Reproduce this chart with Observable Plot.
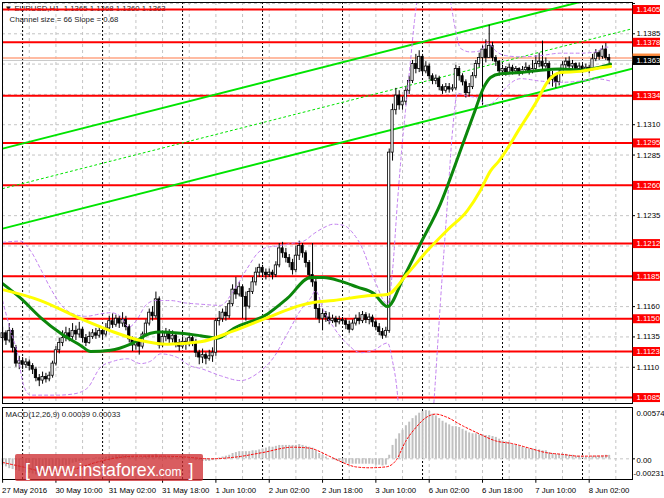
<!DOCTYPE html>
<html>
<head>
<meta charset="utf-8">
<script src="https://cdn.jsdelivr.net/npm/d3@7"></script>
<script src="https://cdn.jsdelivr.net/npm/@observablehq/plot@0.6"></script>
<style>
html,body{margin:0;padding:0;background:#fff;overflow:hidden;}
#chart{position:relative;width:664px;height:498px;overflow:hidden;background:#fff;}
#chart svg{position:absolute;left:0;display:block;max-width:none !important;}
#wm{position:absolute;left:15px;top:454px;width:188px;height:27px;background:rgba(205,42,46,0.76);border-radius:2px;color:#fff;font-family:"Liberation Sans",Arial,sans-serif;white-space:nowrap;line-height:33px;box-sizing:border-box;padding-left:10px;overflow:visible;z-index:5;}
.wb{font-size:17.8px;} .ws{font-size:12px;}
</style>
</head>
<body>
<div id="chart"><div id="wm"><span class="wb">[</span><span class="wb" style="margin-left:6px">www.instaforex</span><span class="ws">.com</span><span class="wb" style="margin-left:7px">]</span></div></div>
<script>
// ---------- DATA (EURUSD H1, bar 0 = 27 May 18:00) ----------
const firstOpen = 1.1134;
const close = [
1.1138,1.1132,1.1140,1.1126,1.1113,1.1115,1.1112,1.1114,1.1111,1.1108,
1.1101,1.1099,1.1102,1.1100,1.1103,1.1113,1.1124,1.1130,1.1134,1.1138,
1.1135,1.1140,1.1137,1.1141,1.1134,1.1130,1.1135,1.1138,1.1136,1.1140,
1.1137,1.1142,1.1148,1.1145,1.1150,1.1146,1.1149,1.1143,1.1133,1.1128,
1.1131,1.1127,1.1137,1.1146,1.1155,1.1152,1.1166,1.1128,1.1135,1.1138,
1.1133,1.1136,1.1130,1.1127,1.1131,1.1129,1.1134,1.1131,1.1122,1.1118,
1.1120,1.1117,1.1119,1.1122,1.1148,1.1150,1.1155,1.1152,1.1162,1.1174,
1.1170,1.1176,1.1168,1.1160,1.1172,1.1180,1.1188,1.1192,1.1188,1.1186,
1.1188,1.1186,1.1194,1.1208,1.1204,1.1200,1.1196,1.1190,1.1202,1.1210,
1.1204,1.1196,1.1186,1.1180,1.1158,1.1150,1.1154,1.1151,1.1148,1.1150,
1.1147,1.1149,1.1148,1.1145,1.1141,1.1146,1.1150,1.1148,1.1153,1.1149,
1.1151,1.1147,1.1143,1.1139,1.1136,1.1140,1.1287,1.1322,1.1334,1.1326,
1.1329,1.1338,1.1346,1.1360,1.1356,1.1366,1.1354,1.1358,1.1350,1.1346,
1.1348,1.1341,1.1338,1.1341,1.1339,1.1340,1.1356,1.1350,1.1345,1.1336,
1.1341,1.1350,1.1360,1.1365,1.1372,1.1365,1.1375,1.1365,1.1362,1.1354,
1.1356,1.1353,1.1357,1.1354,1.1356,1.1353,1.1355,1.1357,1.1354,1.1356,
1.1360,1.1362,1.1358,1.1360,1.1347,1.1350,1.1345,1.1352,1.1359,1.1362,
1.1358,1.1360,1.1356,1.1358,1.1355,1.1357,1.1355,1.1364,1.1369,1.1366,
1.1372,1.1365,1.1363];
const high = [
1.1143,1.1140,1.1146,1.1142,1.1128,1.1119,1.1118,1.1117,1.1116,1.1113,
1.1110,1.1104,1.1106,1.1105,1.1106,1.1115,1.1127,1.1134,1.1140,1.1143,
1.1142,1.1146,1.1144,1.1147,1.1143,1.1137,1.1139,1.1141,1.1142,1.1144,
1.1143,1.1146,1.1152,1.1154,1.1153,1.1152,1.1155,1.1152,1.1145,1.1135,
1.1134,1.1133,1.1139,1.1149,1.1158,1.1160,1.1172,1.1168,1.1140,1.1142,
1.1141,1.1140,1.1138,1.1133,1.1135,1.1134,1.1137,1.1136,1.1133,1.1124,
1.1125,1.1122,1.1124,1.1126,1.1150,1.1156,1.1158,1.1160,1.1165,1.1178,
1.1184,1.1180,1.1178,1.1172,1.1175,1.1184,1.1192,1.1195,1.1194,1.1191,
1.1191,1.1190,1.1197,1.1212,1.1213,1.1208,1.1203,1.1199,1.1210,1.1214,
1.1212,1.1206,1.1198,1.1212,1.1184,1.1162,1.1158,1.1156,1.1155,1.1153,
1.1152,1.1152,1.1151,1.1150,1.1148,1.1149,1.1153,1.1155,1.1156,1.1155,
1.1154,1.1153,1.1149,1.1146,1.1142,1.1143,1.1290,1.1327,1.1340,1.1338,
1.1333,1.1341,1.1350,1.1363,1.1368,1.1371,1.1368,1.1362,1.1360,1.1352,
1.1351,1.1350,1.1343,1.1344,1.1344,1.1343,1.1359,1.1358,1.1352,1.1347,
1.1344,1.1353,1.1363,1.1369,1.1375,1.1380,1.1392,1.1378,1.1367,1.1363,
1.1359,1.1358,1.1360,1.1359,1.1358,1.1357,1.1358,1.1361,1.1359,1.1363,
1.1367,1.1369,1.1379,1.1365,1.1362,1.1354,1.1352,1.1355,1.1362,1.1365,
1.1366,1.1363,1.1361,1.1361,1.1360,1.1360,1.1359,1.1368,1.1372,1.1371,
1.1375,1.1377,1.1368];
const low = [
1.1130,1.1128,1.1130,1.1122,1.1110,1.1108,1.1108,1.1109,1.1107,1.1104,
1.1098,1.1094,1.1096,1.1097,1.1098,1.1101,1.1111,1.1121,1.1127,1.1131,
1.1131,1.1133,1.1132,1.1134,1.1130,1.1127,1.1129,1.1133,1.1133,1.1134,
1.1133,1.1135,1.1140,1.1142,1.1143,1.1142,1.1143,1.1140,1.1130,1.1123,
1.1124,1.1120,1.1125,1.1135,1.1144,1.1148,1.1150,1.1125,1.1126,1.1131,
1.1129,1.1130,1.1126,1.1123,1.1125,1.1124,1.1127,1.1127,1.1118,1.1112,
1.1113,1.1112,1.1115,1.1114,1.1119,1.1144,1.1147,1.1148,1.1150,1.1160,
1.1166,1.1168,1.1150,1.1148,1.1158,1.1170,1.1177,1.1184,1.1184,1.1182,
1.1184,1.1182,1.1184,1.1192,1.1200,1.1196,1.1192,1.1186,1.1188,1.1198,
1.1200,1.1192,1.1182,1.1176,1.1150,1.1146,1.1140,1.1147,1.1145,1.1146,
1.1143,1.1145,1.1145,1.1141,1.1138,1.1140,1.1144,1.1145,1.1146,1.1146,
1.1145,1.1143,1.1140,1.1136,1.1133,1.1134,1.1138,1.1280,1.1318,1.1322,
1.1322,1.1326,1.1335,1.1344,1.1352,1.1353,1.1350,1.1352,1.1347,1.1343,
1.1343,1.1338,1.1335,1.1336,1.1336,1.1337,1.1338,1.1346,1.1342,1.1332,
1.1333,1.1339,1.1348,1.1357,1.1326,1.1361,1.1365,1.1362,1.1358,1.1350,
1.1352,1.1350,1.1352,1.1351,1.1352,1.1350,1.1351,1.1353,1.1351,1.1352,
1.1354,1.1357,1.1355,1.1356,1.1343,1.1341,1.1340,1.1342,1.1350,1.1356,
1.1355,1.1355,1.1353,1.1354,1.1352,1.1353,1.1352,1.1355,1.1362,1.1363,
1.1364,1.1363,1.1360];
const macd = [
-0.0007,-0.0009,-0.0011,-0.0012,-0.0013,-0.0014,-0.0015,-0.0016,-0.0016,-0.0017,
-0.0018,-0.0018,-0.0018,-0.0018,-0.0017,-0.0016,-0.0014,-0.0012,-0.0010,-0.0008,
-0.0007,-0.0005,-0.0004,-0.0003,-0.0002,-0.0002,-0.0001,0.0000,0.0001,0.0001,
0.0002,0.0002,0.0003,0.0003,0.0004,0.0004,0.0004,0.0004,0.0003,0.0002,
0.0002,0.0001,0.0002,0.0003,0.0004,0.0004,0.0005,0.0003,0.0003,0.0002,
0.0002,0.0002,0.0001,0.0001,0.0000,0.0000,0.0000,-0.0001,-0.0002,-0.0002,
-0.0003,-0.0003,-0.0003,-0.0002,0.0000,0.0001,0.0002,0.0003,0.0004,0.0006,
0.0007,0.0008,0.0008,0.0008,0.0008,0.0009,0.0009,0.0010,0.0011,0.0012,
0.0013,0.0013,0.0014,0.0015,0.0015,0.0015,0.0015,0.0015,0.0015,0.0016,
0.0015,0.0014,0.0013,0.0012,0.0009,0.0006,0.0004,0.0002,0.0000,-0.0001,
-0.0002,-0.0003,-0.0004,-0.0005,-0.0006,-0.0006,-0.0006,-0.0006,-0.0006,-0.0006,
-0.0006,-0.0006,-0.0007,-0.0007,-0.0008,-0.0007,0.0004,0.0015,0.0022,0.0028,
0.0032,0.0037,0.0041,0.0045,0.0048,0.0051,0.0053,0.0054,0.0053,0.0050,
0.0048,0.0045,0.0042,0.0040,0.0038,0.0036,0.0036,0.0035,0.0033,0.0031,
0.0029,0.0028,0.0028,0.0027,0.0027,0.0026,0.0026,0.0025,0.0024,0.0022,
0.0020,0.0019,0.0018,0.0016,0.0015,0.0014,0.0013,0.0012,0.0011,0.0011,
0.0010,0.0010,0.0009,0.0009,0.0007,0.0006,0.0005,0.0005,0.0005,0.0005,
0.0004,0.0004,0.0003,0.0003,0.0003,0.0002,0.0002,0.0003,0.0003,0.0003,
0.0003,0.0004,0.00039];
// MACD signal line, read at [bar, value]
const signalPts = [[0,-0.0004],[6,-0.0009],[12,-0.0014],[17,-0.0015],[22,-0.0011],[28,-0.0004],[34,0.0001],[40,0.0003],[48,0.0003],[55,0.0002],[62,0.0000],[70,0.0002],[78,0.0007],[87,0.0013],[92,0.0012],[98,0.0003],[102,-0.0004],[106,-0.0009],[110,-0.0010],[115,-0.0009],[118,-0.0002],[121,0.0020],[124,0.0035],[127,0.0046],[130,0.0050],[133,0.0047],[138,0.0037],[143,0.0028],[148,0.0020],[153,0.0017],[158,0.0012],[163,0.0007],[168,0.0005],[173,0.0003],[182,0.00033]];
// moving averages and Bollinger bands, read at [bar, price]
const yellowMA = [[0,1.1174],[11.4,1.1165],[23.4,1.1150],[32.4,1.1140],[41.4,1.1132],[49.5,1.1129],[59.4,1.1131],[69.3,1.1140],[79.5,1.1151],[89.4,1.1161],[92.4,1.1163],[99.3,1.1165],[109.5,1.1169],[115.4,1.1170],[121.4,1.1187],[127.4,1.1206],[133.4,1.1223],[139.4,1.1239],[143.4,1.1256],[146.4,1.1272],[148.9,1.1280],[155.4,1.1308],[160.4,1.1330],[163.4,1.1345],[167.4,1.1353],[173.4,1.1354],[177.3,1.1356],[182.4,1.1358]];
const greenMA = [[0,1.1179],[5.4,1.1167],[11.4,1.1151],[17.4,1.1138],[23.4,1.1128],[26.4,1.1123],[32.4,1.1124],[38.4,1.1129],[44.4,1.1138],[47.4,1.1139],[53.4,1.1138],[59.4,1.1136],[64.5,1.1134],[69.3,1.1142],[79.5,1.1154],[85.5,1.1167],[92.4,1.1184],[96.3,1.1184],[101.4,1.1181],[106.5,1.1176],[111.3,1.1171],[115.5,1.1160],[120.3,1.1184],[125.4,1.1212],[131.4,1.1245],[137.4,1.1289],[141.4,1.1319],[144.4,1.1341],[146.4,1.1349],[149.4,1.1352],[155.4,1.1353],[161.4,1.1355],[167.4,1.1356],[173.4,1.1355],[178.5,1.1357],[182.4,1.1360]];
const bbUpper = [[0,1.1213],[5.4,1.1214],[8.4,1.1206],[11.4,1.1191],[14.4,1.1175],[17.4,1.1162],[20.4,1.1155],[24.9,1.1152],[29.4,1.1154],[32.4,1.1155],[35.4,1.1152],[37.8,1.1143],[40.5,1.1150],[42.9,1.1161],[45.9,1.1165],[50.4,1.1165],[54.9,1.1163],[59.4,1.1162],[65.4,1.1161],[69.3,1.1173],[73.5,1.1192],[76.5,1.1204],[79.5,1.1209],[82.5,1.1210],[86.4,1.1212],[90.3,1.1214],[93.3,1.1220],[96.3,1.1225],[99.3,1.1228],[102.3,1.1227],[105.3,1.1220],[108.3,1.1206],[110.4,1.1190],[112.5,1.1176],[114.3,1.1165],[115.5,1.1162],[117,1.1190],[118.5,1.1247],[120,1.1297],[120.9,1.1322],[122.4,1.1363],[123.6,1.1396],[126.9,1.1445],[131.4,1.1437],[134.4,1.1411],[135.9,1.1388],[137.4,1.1373],[140.4,1.1370],[143.4,1.1371],[145.5,1.1378],[147.9,1.1371],[150.9,1.1367],[155.4,1.1366],[161.4,1.1367],[167.4,1.1369],[173.4,1.1369],[177.9,1.1370],[180.9,1.1374],[182.4,1.1374]];
const bbLower = [[0,1.1165],[2.4,1.1140],[4.5,1.1121],[6.3,1.1095],[8.4,1.1087],[16.5,1.1087],[21.3,1.1088],[25.5,1.1093],[29.4,1.1110],[33.3,1.1115],[37.5,1.1117],[41.4,1.1113],[44.4,1.1115],[47.4,1.1121],[52.5,1.1118],[56.4,1.1111],[59.4,1.1109],[65.4,1.1103],[71.4,1.1099],[76.5,1.1105],[81.3,1.1118],[85.5,1.1138],[89.4,1.1157],[92.4,1.1167],[93.9,1.1173],[96.3,1.1157],[99.3,1.1143],[103.5,1.1129],[107.4,1.1122],[111.3,1.1124],[115.5,1.1130],[117,1.1115],[118.5,1.1087],[120,1.1025],[125.4,1.0984],[129.0,1.1066],[131.4,1.1165],[133.5,1.1247],[135,1.1305],[136.5,1.1336],[138.9,1.1334],[142.5,1.1332],[145.5,1.1326],[147.9,1.1330],[151.5,1.1342],[155.4,1.1348],[161.4,1.1346],[167.4,1.1345],[173.4,1.1346],[177.9,1.1348],[182.4,1.1346]];
// regression channel (size 66 pips, slope 0.68)
const channelBars = [0, 189];
const channelUpper = [1.12903, 1.14222];
const channelMid = [1.12573, 1.13892];
const channelLower = [1.12243, 1.13562];
// levels and labels
const levels = [1.1405, 1.1378, 1.1334, 1.1295, 1.1260, 1.1212, 1.1185, 1.1150, 1.1123, 1.1085];
const gridPrices = [1.1085, 1.1110, 1.1135, 1.1160, 1.1185, 1.1210, 1.1235, 1.1260, 1.1285, 1.1310, 1.1335, 1.1360, 1.1385, 1.1410];
const gridLabelPrices = [1.1110, 1.1135, 1.1160, 1.1235, 1.1285, 1.1310, 1.1385];
const askPrice = 1.1365, bidPrice = 1.1363;
const gridBars = [0,8,16,24,32,40,48,56,64,72,80,88,96,104,112,120,128,136,144,152,160,168,176,184];
const daySeps = [6,30,54,78,102,126,150,174];
const timeLabelBars = [0,16,32,48,64,80,96,112,128,144,160,176];
const timeLabels = ["27 May 2016","30 May 10:00","31 May 02:00","31 May 18:00","1 Jun 10:00","2 Jun 02:00","2 Jun 18:00","3 Jun 10:00","6 Jun 02:00","6 Jun 18:00","7 Jun 10:00","8 Jun 02:00"];
const macdLabelVals = [0.00574, 0, -0.00231];
const macdLabelText = ["0.00574", "0.00", "-0.00231"];
const titleText = "\u25BC EURUSD,H1  1.1365 1.1368 1.1360 1.1363";
const channelText = "Channel size = 66 Slope = 0.68";
const macdTitle = "MACD(12,26,9) 0.00039 0.00033";

// ---------- CHART ----------
const bars = close.map((c, i) => ({i, o: i === 0 ? firstOpen : close[i - 1], h: high[i], l: low[i], c}));
const macdBars = macd.map((v, i) => ({i, v}));
const xDom = [-0.03, 189.0];
const axisX = 189.0;
const fs = 7.8;
const fam = "Liberation Sans, Arial, sans-serif";
const chLine = (vals, opts) => Plot.line(channelBars, {x: d => d, y: (d, i) => vals[i], clip: true, ...opts});
const ptLine = (pts, opts) => Plot.line(pts, {x: d => d[0], y: d => d[1], clip: true, curve: "monotone-x", ...opts});

const mainPlot = Plot.plot({
  width: 664, height: 405,
  marginLeft: 2, marginRight: 32, marginTop: 2, marginBottom: 2,
  x: {domain: xDom, axis: null},
  y: {domain: [1.10801, 1.14108], axis: null},
  style: {background: "#fff", fontFamily: fam},
  marks: [
    Plot.ruleY(gridPrices, {stroke: "#c4c4c4", strokeDasharray: "3,3"}),
    Plot.ruleX(gridBars, {stroke: "#c4c4c4", strokeDasharray: "3,3"}),
    Plot.ruleX(daySeps, {stroke: "#000", strokeDasharray: "2,2"}),
    Plot.text([titleText], {frameAnchor: "top-left", dx: 2, dy: 3, textAnchor: "start", lineAnchor: "top", fontSize: fs, fill: "#222"}),
    Plot.text([channelText], {frameAnchor: "top-left", dx: 7, dy: 14, textAnchor: "start", lineAnchor: "top", fontSize: fs, fill: "#222"}),
    Plot.ruleY([bidPrice], {stroke: "#c8c8c8"}),
    Plot.ruleY([askPrice], {stroke: "#ffa583", strokeWidth: 1.5}),
    Plot.ruleY(levels, {stroke: "#ff0000", strokeWidth: 2}),
    chLine(channelUpper, {stroke: "#00e400", strokeWidth: 2}),
    chLine(channelLower, {stroke: "#00e400", strokeWidth: 2}),
    chLine(channelMid, {stroke: "#00e400", strokeWidth: 1, strokeDasharray: "2,3"}),
    Plot.ruleX(bars, {x: "i", y1: "l", y2: "h", stroke: "#000", strokeWidth: 1}),
    Plot.rect(bars, {x1: d => d.i - 0.34, x2: d => d.i + 0.34, y1: "o", y2: "c",
      fill: d => d.c >= d.o ? "#ffffff" : "#000000", stroke: "#000", strokeWidth: 0.8}),
    ptLine(bbUpper, {stroke: "#c27ff0", strokeWidth: 1, strokeDasharray: "3,3"}),
    ptLine(bbLower, {stroke: "#c27ff0", strokeWidth: 1, strokeDasharray: "3,3"}),
    ptLine(greenMA, {stroke: "#0b870b", strokeWidth: 3}),
    ptLine(yellowMA, {stroke: "#ffff00", strokeWidth: 3}),
    Plot.frame({stroke: "#000"}),
    // right price scale
    Plot.ruleY(gridPrices, {x1: axisX, x2: axisX + 0.9, stroke: "#000"}),
    Plot.text(gridLabelPrices, {x: axisX, y: d => d, dx: 4, text: d => d.toFixed(4), textAnchor: "start", fontSize: fs, fill: "#000"}),
    Plot.ruleY(levels, {x1: axisX + 0.2, x2: axisX + 8.4, stroke: "#ff0000", strokeWidth: 9}),
    Plot.text(levels, {x: axisX, y: d => d, dx: 4, text: d => d.toFixed(4), textAnchor: "start", fontSize: fs, fill: "#fff"}),
    Plot.ruleY([askPrice], {x1: axisX + 0.2, x2: axisX + 8.4, stroke: "#ff8c40", strokeWidth: 9}),
    Plot.ruleY([bidPrice], {x1: axisX + 0.2, x2: axisX + 8.4, stroke: "#000", strokeWidth: 9}),
    Plot.text([bidPrice], {x: axisX, y: d => d, dx: 4, text: d => d.toFixed(4), textAnchor: "start", fontSize: fs, fill: "#fff"})
  ]
});

const macdBottom = macdLabelVals[2];
const macdPlot = Plot.plot({
  width: 664, height: 93,
  marginLeft: 2, marginRight: 32, marginTop: 2, marginBottom: 19,
  x: {domain: xDom, axis: null},
  y: {domain: [macdLabelVals[2], macdLabelVals[0]], axis: null},
  style: {background: "#fff", fontFamily: fam},
  marks: [
    Plot.ruleX(gridBars, {y1: macdLabelVals[2], y2: macdLabelVals[0], stroke: "#c4c4c4", strokeDasharray: "3,3"}),
    Plot.ruleX(daySeps, {y1: macdLabelVals[2], y2: macdLabelVals[0], stroke: "#000", strokeDasharray: "2,2"}),
    Plot.ruleY([0], {stroke: "#c4c4c4", strokeDasharray: "3,3"}),
    Plot.ruleX(macdBars, {x: "i", y1: () => 0, y2: "v", stroke: "#c0c0c0", strokeWidth: 2}),
    Plot.line(signalPts, {x: d => d[0], y: d => d[1], stroke: "#ff0000", strokeWidth: 1, strokeDasharray: "2,2", curve: "monotone-x"}),
    Plot.text([macdTitle], {frameAnchor: "top-left", dx: 3, dy: 4, textAnchor: "start", lineAnchor: "top", fontSize: fs, fill: "#222"}),
    Plot.frame({stroke: "#000"}),
    Plot.text([0], {x: axisX, y: () => macdLabelVals[0], dx: 4, dy: 6, text: () => macdLabelText[0], textAnchor: "start", fontSize: fs, fill: "#000"}),
    Plot.text([0], {x: axisX, y: () => macdLabelVals[1], dx: 4, dy: 1.5, text: () => macdLabelText[1], textAnchor: "start", fontSize: fs, fill: "#000"}),
    Plot.text([0], {x: axisX, y: () => macdLabelVals[2], dx: 1, dy: -6, text: () => macdLabelText[2], textAnchor: "start", fontSize: fs, fill: "#000"}),
    Plot.ruleY([0], {x1: axisX, x2: axisX + 0.9, stroke: "#000"}),
    // time axis
    Plot.ruleX(timeLabelBars, {x: d => d, y1: () => macdBottom, y2: () => macdBottom - 0.00042, stroke: "#000"}),
    Plot.text(timeLabelBars, {x: d => d, y: () => macdBottom, dy: 10.5, dx: -0.5, text: (d, i) => timeLabels[i], textAnchor: "start", fontSize: fs, fill: "#000"})
  ]
});

const wrap = document.getElementById("chart");
const wm = document.getElementById("wm");
mainPlot.style.top = "0px";
macdPlot.style.top = "405px";
wrap.insertBefore(mainPlot, wm);
wrap.insertBefore(macdPlot, wm);
</script>
</body>
</html>
